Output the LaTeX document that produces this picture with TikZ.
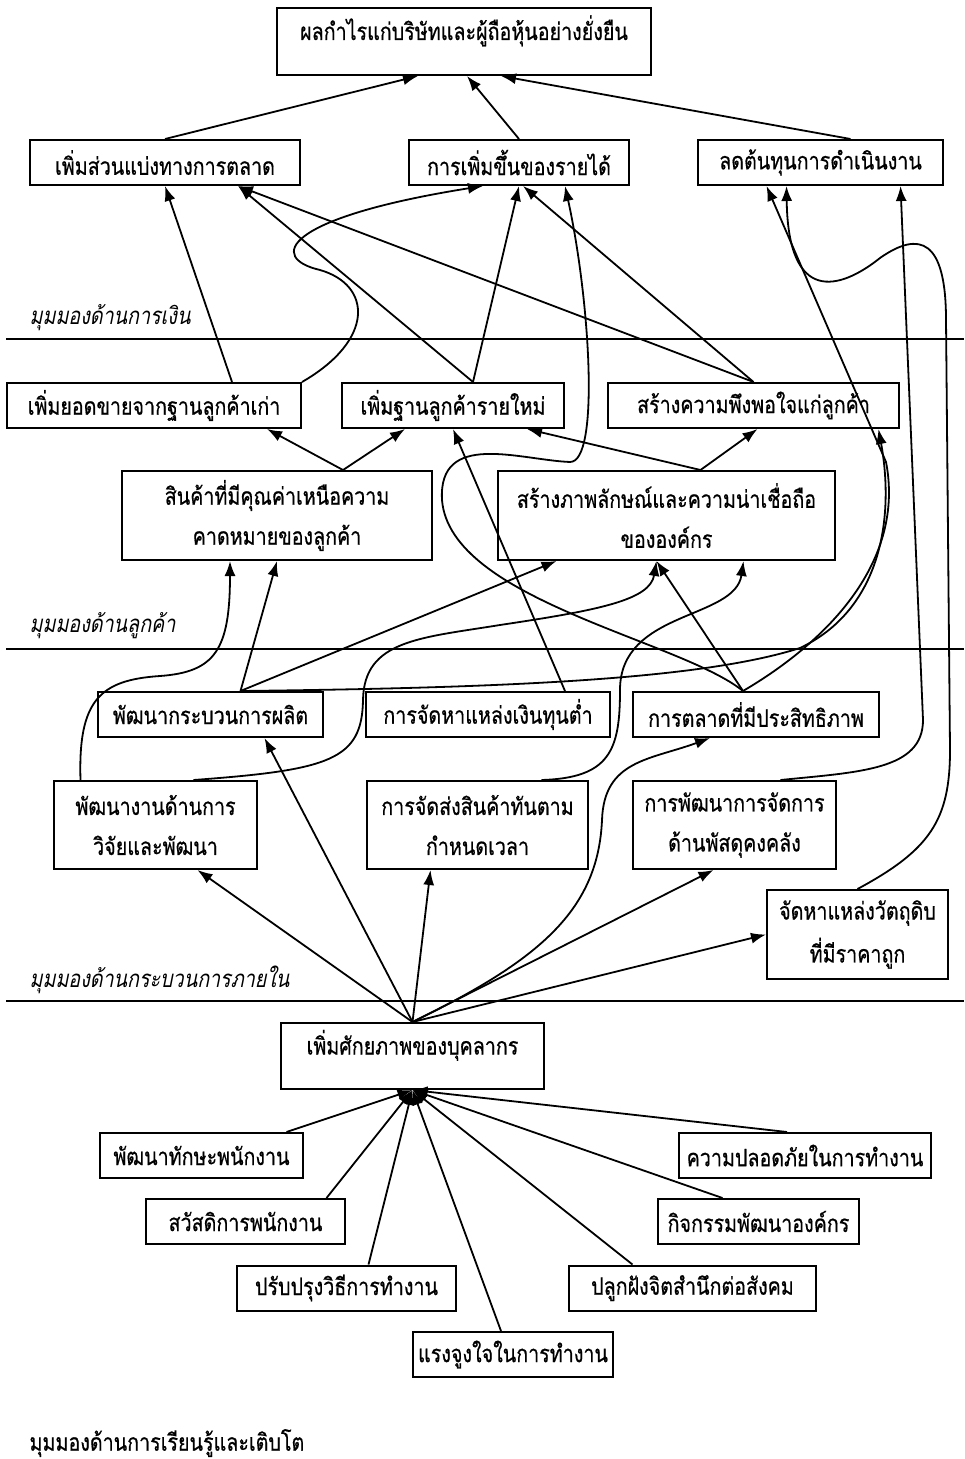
\documentclass[tikz,border=0pt]{standalone}
\usepackage{fontspec}
\setmainfont[Script=Thai,FakeStretch=0.82,FakeBold=0.6]{Loma}
\newfontfamily\thaiit[Script=Thai,FakeStretch=0.82,FakeSlant=0.2]{Loma}
\usetikzlibrary{arrows.meta,calc}

\tikzset{
  box/.style 2 args={draw, line width=1pt, minimum width=#1*0.5pt,
    minimum height=#2*0.5pt, inner sep=2pt},
  uptext/.style={text height=8pt, text depth=9.5pt},
  two/.style={align=center},
  persp/.style={anchor=west, font=\fontsize{12}{14}\thaiit},
  arr/.style={-{Latex[length=7.5pt,width=5.5pt]}},
  sep/.style={line width=1pt}
}

\begin{document}
\begin{tikzpicture}[x=0.5pt,y=-0.5pt,line width=0.9pt,font=\fontsize{12}{14}\selectfont]
\useasboundingbox (0,0) rectangle (964,1459);

% boxes
\node[box={374}{67},uptext] (top) at (464,41.5) {ผลกำไรแก่บริษัทและผู้ถือหุ้นอย่างยั่งยืน};
\node[box={270}{45}] (mkt) at (165,162.5) {เพิ่มส่วนแบ่งทางการตลาด};
\node[box={220}{45}] (rev) at (519,162.5) {การเพิ่มขึ้นของรายได้};
\node[box={245}{45}] (cost) at (820.5,162.5) {ลดต้นทุนการดำเนินงาน};

\node[box={294}{45}] (oldc) at (154,405.5) {เพิ่มยอดขายจากฐานลูกค้าเก่า};
\node[box={222}{45}] (newc) at (453,405.5) {เพิ่มฐานลูกค้ารายใหม่};
\node[box={291}{45}] (sat) at (753.5,405.5) {สร้างความพึงพอใจแก่ลูกค้า};
\node[box={310}{89},two] (val) at (277,515.5) {สินค้าที่มีคุณค่าเหนือความ\\[6pt]คาดหมายของลูกค้า};
\node[box={337}{89},two] (img) at (666.5,515.5) {สร้างภาพลักษณ์และความน่าเชื่อถือ\\[6pt]ขององค์กร};

\node[box={225}{45}] (prod) at (210.5,714.5) {พัฒนากระบวนการผลิต};
\node[box={244}{45}] (fund) at (488,714.5) {การจัดหาแหล่งเงินทุนต่ำ};
\node[box={246}{45}] (mktg) at (756,714.5) {การตลาดที่มีประสิทธิภาพ};
\node[box={203}{88},two] (rd) at (155.5,825) {พัฒนางานด้านการ\\[6pt]วิจัยและพัฒนา};
\node[box={221}{88},two] (jit) at (477.5,825) {การจัดส่งสินค้าทันตาม\\[6pt]กำหนดเวลา};
\node[box={203}{88},two] (inv) at (734.5,825) {การพัฒนาการจัดการ\\[6pt]ด้านพัสดุคงคลัง};
\node[box={181}{89},two] (raw) at (857.5,934.5) {จัดหาแหล่งวัตถุดิบ\\[5pt]ที่มีราคาถูก};

\node[box={263}{66},uptext] (hr) at (412.5,1056) {เพิ่มศักยภาพของบุคลากร};
\node[box={203}{45}] (skill) at (201.5,1155.5) {พัฒนาทักษะพนักงาน};
\node[box={252}{45}] (safe) at (805,1155.5) {ความปลอดภัยในการทำงาน};
\node[box={199}{45}] (welf) at (245.5,1221.5) {สวัสดิการพนักงาน};
\node[box={201}{45}] (act) at (758.5,1221.5) {กิจกรรมพัฒนาองค์กร};
\node[box={219}{45}] (meth) at (346.5,1288) {ปรับปรุงวิธีการทำงาน};
\node[box={247}{45}] (soc) at (692.5,1288) {ปลูกฝังจิตสำนึกต่อสังคม};
\node[box={200}{45}] (mot) at (513,1354.5) {แรงจูงใจในการทำงาน};

% perspectives
\node[persp] (pfin) at (22,318) {มุมมองด้านการเงิน};
\node[persp] (pcus) at (22,626) {มุมมองด้านลูกค้า};
\node[persp] (pint) at (22,980) {มุมมองด้านกระบวนการภายใน};
\node[anchor=west] (plrn) at (22,1443) {มุมมองด้านการเรียนรู้และเติบโต};
\draw[sep] (6,339) -- (964,339);
\draw[sep] (6,649) -- (964,649);
\draw[sep] (6,1001) -- (964,1001);

% financial
\draw[arr] (mkt.north) -- ($(top.south)+(-46,0)$);
\draw[arr] (rev.north) -- ($(top.south)+(3,0)$);
\draw[arr] ($(cost.north)+(30,0)$) -- ($(top.south)+(37,0)$);

% customer
\draw[arr] ($(oldc.north)+(78,0)$) -- (mkt.south);
\draw[arr] ($(newc.north)+(20,0)$) -- ($(mkt.south)+(73,0)$);
\draw[arr] (sat.north) -- ($(mkt.south)+(73,0)$);
\draw[arr] ($(newc.north)+(20,0)$) -- (rev.south);
\draw[arr] (sat.north) -- ($(rev.south)+(4,0)$);
\draw[arr] (oldc.north east) .. controls (375,340) and (372,285) .. (320,270)
  .. controls (268,258) and (282,218) .. ($(rev.south)+(-36,0)$);
\draw[arr] ($(val.north)+(66,0)$) -- ($(oldc.south)+(113,0)$);
\draw[arr] ($(val.north)+(66,0)$) -- ($(newc.south)+(-48,0)$);
\draw[arr] ($(img.north)+(34,0)$) -- ($(newc.south)+(74,0)$);
\draw[arr] ($(img.north)+(34,0)$) -- ($(sat.south)+(4,0)$);

% internal process
\draw[arr] ($(prod.north)+(30,0)$) -- (val.south);
\draw[arr] ($(prod.north)+(30,0)$) -- ($(img.south)+(-110,0)$);
\draw[arr] ($(prod.north)+(30,0)$) .. controls (500,688) and (700,680) .. (800,648)
  .. controls (880,610) and (895,520) .. ($(sat.south)+(125,0)$);
\draw[arr] ($(fund.north)+(77,0)$) -- (newc.south);
\draw[arr] ($(mktg.north)+(-13,0)$) -- ($(img.south)+(-10,0)$);
\draw[arr] ($(mktg.north)+(-13,0)$) .. controls (680,640) and (450,600) .. (442,500)
  .. controls (438,430) and (520,460) .. (570,462)
  .. controls (600,462) and (590,300) .. ($(rev.south)+(46,0)$);
\draw[arr] ($(mktg.north)+(-13,0)$) .. controls (830,640) and (905,560) .. (886,462)
  -- ($(cost.south)+(-54,0)$);
\draw[arr] ($(rd.north)+(-75,0)$) .. controls (78,700) and (100,680) .. (160,676)
  .. controls (215,672) and (230,650) .. ($(val.south)+(-47,0)$);
\draw[arr] ($(rd.north)+(38,0)$) .. controls (330,770) and (362,760) .. (363,700)
  .. controls (364,640) and (420,638) .. (500,625)
  .. controls (600,610) and (650,600) .. ($(img.south)+(-10,0)$);
\draw[arr] ($(jit.north)+(64,0)$) .. controls (610,778) and (620,750) .. (620,690)
  .. controls (620,610) and (735,620) .. ($(img.south)+(77,0)$);
\draw[arr] ($(inv.north)+(46,0)$) .. controls (860,772) and (923,770) .. (923,720)
  -- ($(cost.south)+(80,0)$);
\draw[arr] (raw.north) .. controls (930,850) and (950,820) .. (950,750) -- (946,320)
  .. controls (946,240) and (920,230) .. (880,258)
  .. controls (840,290) and (788,305) .. ($(cost.south)+(-34,0)$);

% learning and growth
\draw[arr] (hr.north) -- ($(rd.south)+(42,0)$);
\draw[arr] (hr.north) -- ($(prod.south)+(54,0)$);
\draw[arr] (hr.north) -- ($(jit.south)+(-47,0)$);
\draw[arr] (hr.north) .. controls (540,960) and (598,910) .. (602,820)
  .. controls (604,760) and (650,760) .. ($(mktg.south)+(-46,0)$);
\draw[arr] (hr.north) -- ($(inv.south)+(-21,0)$);
\draw[arr] (hr.north) -- (raw.west);
\foreach \n/\dx in {skill/85,welf/81,meth/22,mot/-12,soc/-60,act/-36,safe/-18}
  \draw[arr] ($(\n.north)+(\dx,0)$) -- (hr.south);
\end{tikzpicture}
\end{document}
